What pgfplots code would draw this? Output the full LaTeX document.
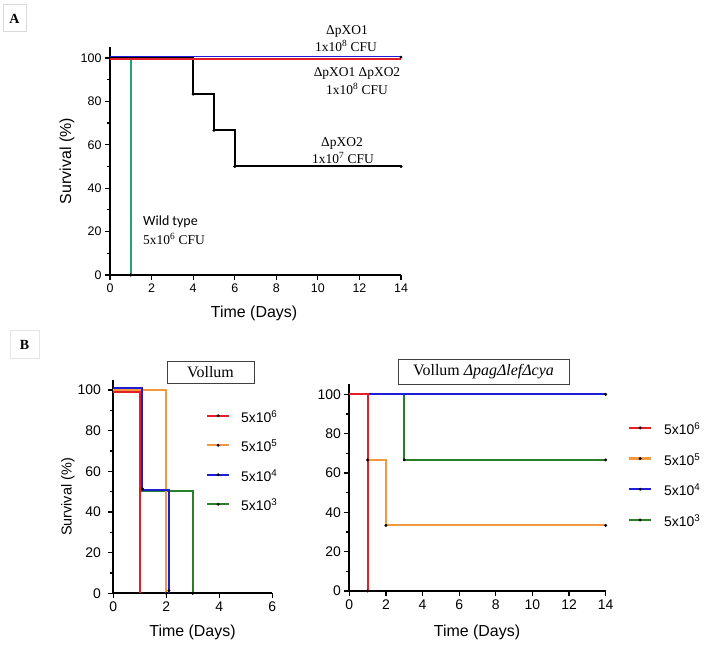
\documentclass[border=0pt]{standalone}
\usepackage{pgfplots}
\pgfplotsset{compat=1.18}
\usepackage{fontspec}
\setmainfont{Liberation Sans}
\newfontfamily\seriffont{Liberation Serif}
\newfontfamily\carl{Carlito}
\definecolor{cred}{RGB}{228,30,36}
\definecolor{corange}{RGB}{243,152,62}
\definecolor{cblue}{RGB}{30,30,215}
\definecolor{cgreen}{RGB}{40,128,40}
\definecolor{cteal}{RGB}{40,160,120}
\pgfplotsset{
  surv/.style={
    scale only axis,
    axis x line=bottom, axis y line=left,
    axis line style={line width=1.7bp, -},
    every tick/.style={line width=1.2bp, black},
    tick align=outside,
    major tick length=5bp, minor tick length=3bp,
    xmin=0, ymin=0, ymax=105,
    ytick={0,20,40,60,80,100},
    minor y tick num=1,
    clip=false, enlargelimits=false,
    /pgf/number format/assume math mode=true,
    xlabel={Time (Days)},
    legend image code/.code={
      \draw[##1, line width=2.2bp] (0bp,1.7bp) -- (22bp,1.7bp);
      \fill[black] (11bp,1.7bp) circle (1.3bp);
    },
  },
  dots/.style={only marks, mark=*, mark size=1.3bp, black, forget plot},
  ln/.style={line width=2bp, forget plot},
}
\begin{document}
\begin{tikzpicture}
\useasboundingbox (0,0) rectangle (704bp,646bp);
% ---------------- Panel A ----------------
\begin{axis}[surv,
  at={(110bp,371bp)}, anchor=south west,
  width=291bp, height=227.85bp,
  xmax=14, xtick={0,2,...,14},
  ticklabel style={font=\fontsize{12.5}{14}\selectfont},
  label style={font=\fontsize{16}{18}\selectfont},
  ylabel={Survival (\%)},
  xlabel style={at={(axis description cs:0.495,-0.167)}, anchor=center},
  ylabel style={at={(axis description cs:-0.148,0.5)}, anchor=center, rotate=0},
]
\addplot[ln, cteal, line width=1.5bp] coordinates {(0,100) (1,100) (1,0)};
\addplot[ln, black] coordinates {(0,100) (4,100) (4,83.33) (5,83.33) (5,66.67) (6,66.67) (6,50) (14,50)};
\addplot[ln, cred, line width=2.2bp] coordinates {(0,99.4) (14,99.4)};
\addplot[ln, cblue, line width=1.6bp] coordinates {(0,100.7) (14,100.7)};
\addplot[dots] coordinates {(1,0) (4,83.33) (5,66.67) (6,50) (14,50) (14,100.4)};
\end{axis}
% ---------------- Panel B left ----------------
\begin{axis}[surv,
  at={(113.3bp,52.7bp)}, anchor=south west,
  width=159bp, height=213.5bp,
  xmax=6, xtick={0,2,4,6},
  ticklabel style={font=\fontsize{14}{16}\selectfont},
  yticklabel style={xshift=-4bp},
  xlabel style={font=\fontsize{16}{18}\selectfont, at={(axis description cs:0.498,-0.181)}, anchor=center},
  ylabel={Survival (\%)},
  ylabel style={font=\fontsize{14.5}{17}\selectfont, at={(axis description cs:-0.285,0.451)}, anchor=center},
  legend style={draw=none, fill=none, inner sep=0pt, outer sep=0pt,
    at={(axis description cs:0.583,0.847)}, anchor=north west,
    font=\fontsize{14}{16}\selectfont, row sep=19.5bp, column sep=11bp,
    nodes={inner sep=0pt, text height=10bp, text depth=0bp}},
  legend cell align=left,
]
\addplot[ln, cgreen] coordinates {(0,100) (1,100) (1,50.3) (3,50.3) (3,0)};
\addplot[ln, corange] coordinates {(0,100) (2,100) (2,0)};
\addplot[ln, cblue] coordinates {(0,101.1) (1.1,101.1) (1.1,51) (2.1,51) (2.1,0)};
\addplot[ln, cred] coordinates {(0,99) (1,99) (1,0)};
\addplot[dots] coordinates {(1.1,51.3) (2.1,1.3) (2,0) (3,0)};
\addlegendimage{cred}\addlegendentry{5x10\textsuperscript{6}}
\addlegendimage{corange}\addlegendentry{5x10\textsuperscript{5}}
\addlegendimage{cblue}\addlegendentry{5x10\textsuperscript{4}}
\addlegendimage{cgreen}\addlegendentry{5x10\textsuperscript{3}}
\end{axis}
% ---------------- Panel B right ----------------
\begin{axis}[surv,
  at={(349.3bp,55bp)}, anchor=south west,
  width=256.4bp, height=206.5bp,
  xmax=14, xtick={0,2,...,14},
  ticklabel style={font=\fontsize{14}{16}\selectfont},
  xlabel style={font=\fontsize{16}{18}\selectfont, at={(axis description cs:0.498,-0.199)}, anchor=center},
  legend style={draw=none, fill=none, inner sep=0pt, outer sep=0pt,
    at={(axis description cs:1.087,0.806)}, anchor=north west,
    font=\fontsize{14}{16}\selectfont, row sep=20.7bp, column sep=12bp,
    nodes={inner sep=0pt, text height=10bp, text depth=0bp}},
  legend cell align=left,
]
\addplot[ln, corange] coordinates {(0,100) (1,100) (1,66.67) (2,66.67) (2,33.33) (14,33.33)};
\addplot[ln, cgreen] coordinates {(0,100) (3,100) (3,66.67) (14,66.67)};
\addplot[ln, cblue] coordinates {(0,100) (14,100)};
\addplot[ln, cred] coordinates {(0,100) (1,100) (1,0)};
\addplot[dots] coordinates {(1,0) (1,66.67) (2,33.33) (3,66.67) (14,100) (14,66.67) (14,33.33)};
\addlegendimage{cred}\addlegendentry{5x10\textsuperscript{6}}
\addlegendimage{corange}\addlegendentry{5x10\textsuperscript{5}}
\addlegendimage{cblue}\addlegendentry{5x10\textsuperscript{4}}
\addlegendimage{cgreen}\addlegendentry{5x10\textsuperscript{3}}
\end{axis}
% ---------------- annotations ----------------
\begin{scope}[every node/.style={font=\seriffont\fontsize{13.5}{15}\selectfont, inner sep=0pt}]
\node at (347bp,615bp) {ΔpXO1};
\node at (346bp,600bp) {1x10\textsuperscript{8} CFU};
\node at (357bp,573bp) {ΔpXO1 ΔpXO2};
\node at (357bp,557bp) {1x10\textsuperscript{8} CFU};
\node at (342bp,503bp) {ΔpXO2};
\node at (343bp,488bp) {1x10\textsuperscript{7} CFU};
\node[anchor=west, font=\carl\fontsize{14}{16}\selectfont] at (143bp,424bp) {Wild type};
\node[anchor=west] at (143bp,407bp) {5x10\textsuperscript{6} CFU};
\end{scope}
% panel letters
\node[draw=black!15, line width=1bp, minimum width=23bp, minimum height=27bp, inner sep=0pt,
  font=\seriffont\bfseries\fontsize{14}{16}\selectfont] at (14.5bp,627.5bp) {A};
\node[draw=black!10, line width=1bp, minimum width=29bp, minimum height=28bp, inner sep=0pt,
  font=\seriffont\bfseries\fontsize{14}{16}\selectfont] at (24.5bp,301bp) {B};
% title boxes
\node[draw=black!75, line width=0.9bp, minimum width=87bp, minimum height=22bp, inner sep=0pt,
  font=\seriffont\fontsize{16}{18}\selectfont] at (210.5bp,274bp) {Vollum};
\node[draw=black!75, line width=0.9bp, minimum width=171bp, minimum height=25bp, inner sep=0pt,
  font=\seriffont\fontsize{16}{18}\selectfont] at (483.5bp,274.5bp) {Vollum \textit{ΔpagΔlefΔcya}};
\end{tikzpicture}
\end{document}
